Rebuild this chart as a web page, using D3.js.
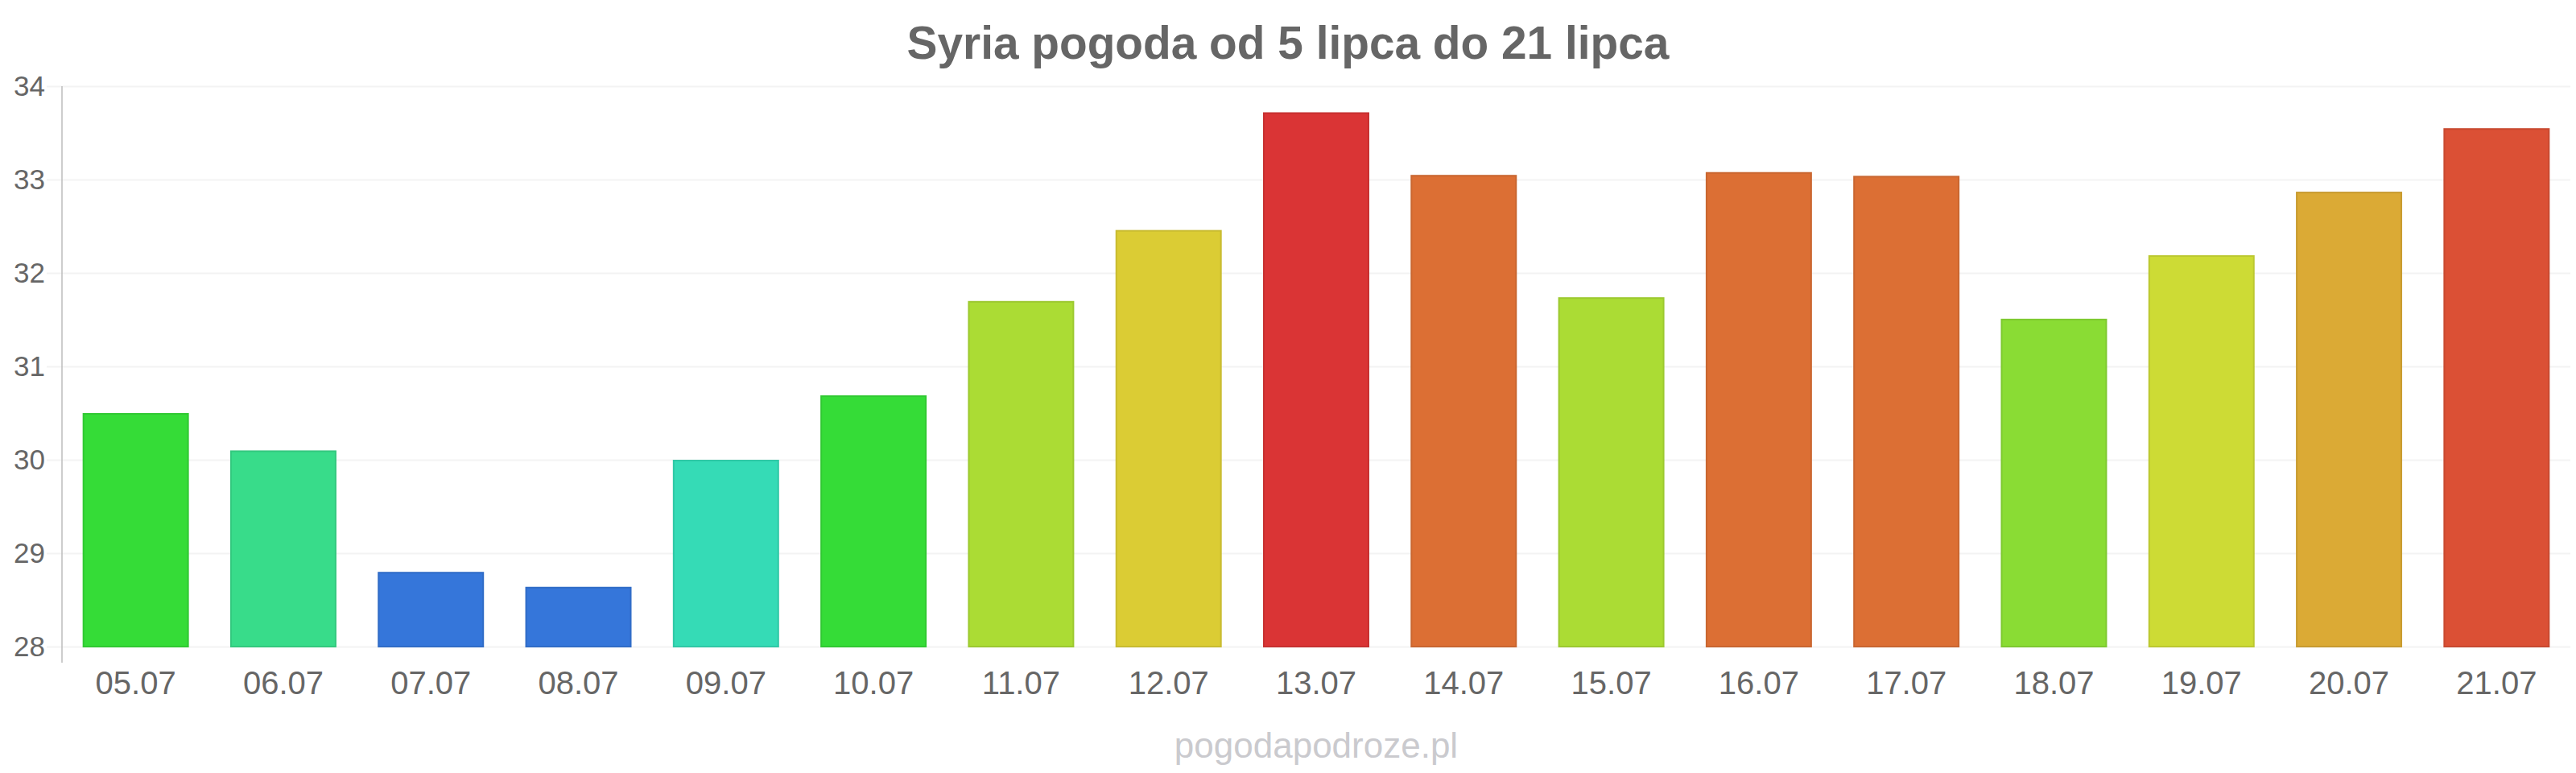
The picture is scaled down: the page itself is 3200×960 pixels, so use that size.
<!DOCTYPE html>
<html>
<head>
<meta charset="utf-8">
<script src="https://cdn.jsdelivr.net/npm/d3@7"></script>
<style>
  body { margin: 0; background: #fff; }
  svg { display: block; font-family: "Liberation Sans", Arial, sans-serif; }
</style>
</head>
<body>
<div id="chart"></div>
<script>
const days = ["05.07", "06.07", "07.07", "08.07", "09.07", "10.07", "11.07", "12.07", "13.07",
    "14.07", "15.07", "16.07", "17.07", "18.07", "19.07", "20.07", "21.07"];
const temps = [30.5, 30.1, 28.8, 28.64, 30.0, 30.69, 31.7, 32.46, 33.72,
    33.05, 31.74, 33.08, 33.04, 31.51, 32.19, 32.87, 33.55];
const barColors = ["#35dc37", "#38dc8a", "#3576da", "#3576da", "#35dbb6", "#35dc37", "#abdc34", "#dbcc34", "#da3435",
    "#dc6f34", "#abdc34", "#dc6f34", "#dc6f34", "#8adc34", "#cddb35", "#dbaa35", "#db5035"];
const yTicks = [28, 29, 30, 31, 32, 33, 34];

const title = "Syria pogoda od 5 lipca do 21 lipca";
const credit = "pogodapodroze.pl";

const width = 3200, height = 960;
const plot = { left: 77, right: 3193, top: 107, bottom: 803 };

const svg = d3.select("#chart").append("svg")
    .attr("width", width)
    .attr("height", height);

const x = d3.scaleBand()
    .domain(days)
    .range([plot.left, plot.right])
    .paddingInner(0.28)
    .paddingOuter(0.14);

const y = d3.scaleLinear()
    .domain([28, 34])
    .range([plot.bottom, plot.top]);

// grid + y labels
const yAxis = svg.append("g")
    .attr("transform", `translate(${plot.left - 19},0)`)
    .call(d3.axisLeft(y)
        .tickValues(yTicks)
        .tickFormat(d3.format("d"))
        .tickSize(-(plot.right - plot.left + 19))
        .tickPadding(2));
yAxis.select(".domain").remove();
yAxis.selectAll(".tick line")
    .attr("stroke", "#f3f3f3")
    .attr("stroke-width", 2);
yAxis.selectAll(".tick text")
    .attr("fill", "#666")
    .style("font-size", "35px");

// vertical axis line
svg.append("line")
    .attr("x1", plot.left).attr("x2", plot.left)
    .attr("y1", plot.top).attr("y2", plot.bottom + 20)
    .attr("stroke", "#bdbdbd")
    .attr("stroke-width", 1.5);

// bars
svg.append("g").selectAll("rect")
    .data(days)
    .join("rect")
    .attr("x", d => x(d) + 1)
    .attr("y", (d, i) => y(temps[i]) + 1)
    .attr("width", x.bandwidth() - 2)
    .attr("height", (d, i) => y(28) - y(temps[i]) - 1)
    .attr("fill", (d, i) => barColors[i])
    .attr("stroke", (d, i) => d3.color(barColors[i]).darker(0.25))
    .attr("stroke-width", 2);

// x labels
const xAxis = svg.append("g")
    .attr("transform", `translate(0,${plot.bottom})`)
    .call(d3.axisBottom(x).tickSize(0).tickPadding(31));
xAxis.select(".domain").remove();
xAxis.selectAll(".tick text")
    .attr("fill", "#666")
    .style("font-size", "40px");

svg.append("text")
    .attr("x", width / 2)
    .attr("y", 73)
    .attr("text-anchor", "middle")
    .attr("fill", "#666")
    .style("font-size", "56.8px")
    .style("font-weight", "bold")
    .text(title);

svg.append("text")
    .attr("x", (plot.left + plot.right) / 2)
    .attr("y", 941)
    .attr("text-anchor", "middle")
    .attr("fill", "#cacace")
    .style("font-size", "44px")
    .text(credit);
</script>
</body>
</html>
